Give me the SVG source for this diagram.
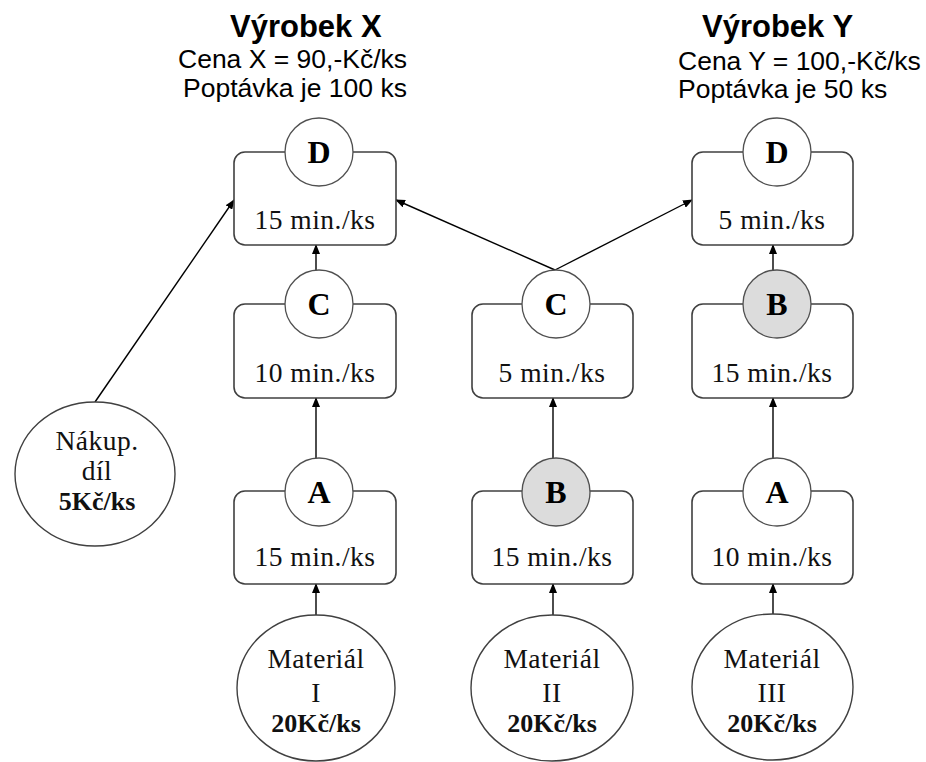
<svg xmlns="http://www.w3.org/2000/svg" width="926" height="762" viewBox="0 0 926 762">
<style>
.box{fill:#fff;stroke:#404040;stroke-width:1.6}
.op{fill:#fff;stroke:#505050;stroke-width:1.3}
.gray{fill:#dcdcdc}
.src{fill:#fff;stroke:#404040;stroke-width:1.4}
.t{font-family:"Liberation Serif","Times New Roman",serif;font-size:27.5px;letter-spacing:0.5px;fill:#111;text-anchor:middle}
.b{font-family:"Liberation Serif","Times New Roman",serif;font-size:26px;font-weight:bold;fill:#111;text-anchor:middle}
.L{font-family:"Liberation Serif","Times New Roman",serif;font-size:32px;font-weight:bold;fill:#000;text-anchor:middle}
.h{font-family:"Liberation Sans",Arial,sans-serif;font-size:31px;font-weight:bold;fill:#000}
.s{font-family:"Liberation Sans",Arial,sans-serif;font-size:26.5px;fill:#000}
.c{fill:none;stroke:#000;stroke-width:1.4;marker-end:url(#ah)}
</style>
<defs>
<marker id="ah" markerUnits="userSpaceOnUse" markerWidth="10" markerHeight="8" refX="9" refY="4" orient="auto">
<path d="M0,0 L10,4 L0,8 Z" fill="#000"/>
</marker>
</defs>
<rect width="926" height="762" fill="#fff"/>

<g id="titles">
<text class="h" x="230" y="37">Výrobek X</text>
<text class="s" x="178" y="68">Cena X = 90,-Kč/ks</text>
<text class="s" x="183" y="97">Poptávka je 100 ks</text>
<text class="h" x="702" y="37">Výrobek Y</text>
<text class="s" x="678" y="70">Cena Y = 100,-Kč/ks</text>
<text class="s" x="678" y="98">Poptávka je 50 ks</text>
</g>

<g id="connectors">
<line class="c" x1="95" y1="402" x2="234" y2="200"/>
<line class="c" x1="555" y1="270" x2="396" y2="200"/>
<line class="c" x1="555" y1="270" x2="692" y2="200"/>
<line class="c" x1="316" y1="270" x2="316" y2="245"/>
<line class="c" x1="316" y1="458" x2="316" y2="398"/>
<line class="c" x1="316" y1="615" x2="316" y2="584"/>
<line class="c" x1="553" y1="458" x2="553" y2="398"/>
<line class="c" x1="553" y1="615" x2="553" y2="584"/>
<line class="c" x1="773" y1="270" x2="773" y2="245"/>
<line class="c" x1="773" y1="458" x2="773" y2="398"/>
<line class="c" x1="773" y1="614" x2="773" y2="584"/>
</g>

<g id="xD">
<rect class="box" x="234" y="152" width="162" height="93" rx="11"/>
<circle class="op" cx="319" cy="152" r="34"/>
<text class="L" x="319" y="163">D</text>
<text class="t" x="315" y="229">15 min./ks</text>
</g>
<g id="yD">
<rect class="box" x="692" y="152" width="161" height="93" rx="11"/>
<circle class="op" cx="777" cy="152" r="34"/>
<text class="L" x="777" y="163">D</text>
<text class="t" x="772" y="229">5 min./ks</text>
</g>

<g id="xC">
<rect class="box" x="234" y="304" width="162" height="94" rx="11"/>
<circle class="op" cx="319" cy="304" r="34"/>
<text class="L" x="319" y="315">C</text>
<text class="t" x="315" y="382">10 min./ks</text>
</g>
<g id="mC">
<rect class="box" x="472" y="304" width="161" height="94" rx="11"/>
<circle class="op" cx="556" cy="304" r="34"/>
<text class="L" x="556" y="315">C</text>
<text class="t" x="552" y="382">5 min./ks</text>
</g>
<g id="yB">
<rect class="box" x="692" y="304" width="161" height="94" rx="11"/>
<circle class="op gray" cx="777" cy="304" r="34"/>
<text class="L" x="777" y="315">B</text>
<text class="t" x="772" y="382">15 min./ks</text>
</g>

<g id="xA">
<rect class="box" x="234" y="491" width="162" height="93" rx="11"/>
<circle class="op" cx="319" cy="492" r="34"/>
<text class="L" x="319" y="503">A</text>
<text class="t" x="315" y="566">15 min./ks</text>
</g>
<g id="mB">
<rect class="box" x="472" y="491" width="161" height="93" rx="11"/>
<circle class="op gray" cx="556" cy="492" r="34"/>
<text class="L" x="556" y="503">B</text>
<text class="t" x="552" y="566">15 min./ks</text>
</g>
<g id="yA">
<rect class="box" x="692" y="491" width="161" height="93" rx="11"/>
<circle class="op" cx="777" cy="492" r="34"/>
<text class="L" x="777" y="503">A</text>
<text class="t" x="772" y="566">10 min./ks</text>
</g>

<g id="nakup">
<ellipse class="src" cx="95" cy="474" rx="80" ry="72"/>
<text class="t" x="97" y="450">Nákup.</text>
<text class="t" x="97" y="480">díl</text>
<text class="b" x="97" y="510">5Kč/ks</text>
</g>
<g id="mat1">
<ellipse class="src" cx="316" cy="688" rx="79" ry="73"/>
<text class="t" x="316" y="668">Materiál</text>
<text class="t" x="316" y="702">I</text>
<text class="b" x="316" y="732">20Kč/ks</text>
</g>
<g id="mat2">
<ellipse class="src" cx="552" cy="688" rx="81" ry="73"/>
<text class="t" x="552" y="668">Materiál</text>
<text class="t" x="552" y="702">II</text>
<text class="b" x="552" y="732">20Kč/ks</text>
</g>
<g id="mat3">
<ellipse class="src" cx="772.5" cy="687" rx="80.5" ry="73"/>
<text class="t" x="772" y="668">Materiál</text>
<text class="t" x="772" y="702">III</text>
<text class="b" x="772" y="732">20Kč/ks</text>
</g>
</svg>
